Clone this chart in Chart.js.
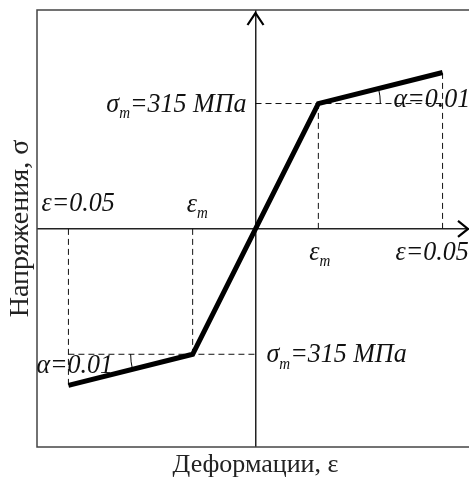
<!DOCTYPE html>
<html><head><meta charset="utf-8">
<script src="https://cdn.jsdelivr.net/npm/chart.js@4/dist/chart.umd.min.js"></script>
<style>html,body{margin:0;padding:0;background:#fff;overflow:hidden;width:469px;height:478px}canvas{display:block}</style>
</head><body>
<canvas id="c" width="480" height="478"></canvas>
<script>
// ---- data ----
const strain = [-0.05, -0.0168, 0, 0.0168, 0.05];
const stress = [-393, -315, 0, 315, 393];
const xRange = [-0.0584, 0.0584];
const yRange = [-548, 550];
const xTitle = 'Деформации, ε';
const yTitle = 'Напряжения, σ';
const stressLabel = [['σ', false], ['m', true], ['=315 МПа', false]];
const strainLabel = [['ε', false], ['m', true]];
const limitLabel = [['ε=0.05', false]];
const slopeLabel = [['α=0.01', false]];

// guide (dashed) lines built from the data points
const iEndL = 0, iYL = 1, iO = 2, iYR = 3, iEndR = 4;
const guides = [
  [[strain[iEndL], 0], [strain[iEndL], stress[iEndL]]],
  [[strain[iYL], 0], [strain[iYL], stress[iYL]]],
  [[strain[iEndL], stress[iYL]], [strain[iO], stress[iYL]]],
  [[strain[iYR], 0], [strain[iYR], stress[iYR]]],
  [[strain[iEndR], 0], [strain[iEndR], stress[iEndR]]],
  [[strain[iO], stress[iYR]], [strain[iEndR], stress[iYR]]]
];

const SERIF = "'Liberation Serif', 'Times New Roman', serif";

function drawRich(ctx, segs, x, y, align) {
  const big = 'italic 26px ' + SERIF, small = 'italic 15px ' + SERIF;
  let total = 0;
  segs.forEach(([t, sub]) => { ctx.font = sub ? small : big; total += ctx.measureText(t).width; });
  let cx = align === 'right' ? x - total : x;
  ctx.save();
  ctx.translate(cx, y);
  ctx.scale(1, 1.08);
  ctx.textBaseline = 'alphabetic';
  ctx.textAlign = 'left';
  let ox = 0;
  segs.forEach(([t, sub]) => {
    ctx.font = sub ? small : big;
    ctx.fillText(t, ox, sub ? 6 : 0);
    ox += ctx.measureText(t).width;
  });
  ctx.restore();
}

const decor = {
  id: 'decor',
  afterDraw(chart) {
    const {ctx, chartArea: a, scales: {x, y}} = chart;
    const px = v => x.getPixelForValue(v), py = v => y.getPixelForValue(v);
    ctx.save();
    // frame
    ctx.strokeStyle = '#444';
    ctx.lineWidth = 1.5;
    ctx.strokeRect(a.left, a.top, a.right - a.left, a.bottom - a.top);
    // arrows
    const x0 = px(0), y0 = py(0);
    ctx.strokeStyle = '#000';
    ctx.lineWidth = 2.2;
    ctx.beginPath();
    ctx.moveTo(x0 - 8, a.top + 15); ctx.lineTo(x0, a.top + 3); ctx.lineTo(x0 + 8, a.top + 15);
    ctx.stroke();
    ctx.beginPath();
    ctx.moveTo(a.right - 16, y0 - 8); ctx.lineTo(a.right - 6, y0); ctx.lineTo(a.right - 16, y0 + 8);
    ctx.stroke();
    // angle arcs
    ctx.lineWidth = 1;
    const yr = [px(strain[iYR]), py(stress[iYR])], er = [px(strain[iEndR]), py(stress[iEndR])];
    const tr = Math.atan2(er[1] - yr[1], er[0] - yr[0]);
    ctx.beginPath(); ctx.arc(yr[0], yr[1], 62, tr, 0); ctx.stroke();
    const yl = [px(strain[iYL]), py(stress[iYL])], el = [px(strain[iEndL]), py(stress[iEndL])];
    const tl = Math.atan2(el[1] - yl[1], el[0] - yl[0]);
    ctx.beginPath(); ctx.arc(yl[0], yl[1], 62, tl, Math.PI); ctx.stroke();
    // labels
    ctx.fillStyle = '#111';
    drawRich(ctx, stressLabel, x0 - 9, py(stress[iYR]) + 8, 'right');
    drawRich(ctx, slopeLabel, px(strain[iEndR]) - 49, py(stress[iYR]) + 3, 'left');
    drawRich(ctx, limitLabel, px(strain[iEndL]) - 27, y0 - 18, 'left');
    drawRich(ctx, strainLabel, px(strain[iYL]) - 6, y0 - 17, 'left');
    drawRich(ctx, strainLabel, px(strain[iYR]) - 9, y0 + 31, 'left');
    drawRich(ctx, limitLabel, px(strain[iEndR]) - 47, y0 + 31, 'left');
    drawRich(ctx, slopeLabel, px(strain[iEndL]) - 32, py(stress[iYL]) + 19, 'left');
    drawRich(ctx, stressLabel, x0 + 11, py(stress[iYL]) + 8, 'left');
    ctx.restore();
  }
};

const datasets = [{
  data: strain.map((v, i) => ({x: v, y: stress[i]})),
  borderColor: '#000', borderWidth: 5, pointRadius: 0, showLine: true,
  borderCapStyle: 'butt', borderJoinStyle: 'miter', order: 0
}].concat(guides.map(g => ({
  data: g.map(p => ({x: p[0], y: p[1]})),
  borderColor: '#111', borderWidth: 1, borderDash: [6, 4], pointRadius: 0, showLine: true, order: 1
})));

new Chart(document.getElementById('c'), {
  type: 'scatter',
  data: {datasets},
  options: {
    responsive: false, animation: false,
    layout: {padding: {top: 10, right: 6, bottom: 0, left: 0}},
    plugins: {legend: {display: false}, tooltip: {enabled: false}},
    scales: {
      x: {
        type: 'linear', min: xRange[0], max: xRange[1],
        afterBuildTicks: s => { s.ticks = [{value: 0}]; },
        afterFit: s => { s.height = 31; },
        ticks: {display: false},
        grid: {color: '#222', lineWidth: 1.5, drawTicks: false},
        border: {display: false},
        title: {display: true, text: xTitle, color: '#222', font: {family: SERIF, size: 26, lineHeight: 1.0}, padding: {top: 0, bottom: 0}}
      },
      y: {
        type: 'linear', min: yRange[0], max: yRange[1],
        afterBuildTicks: s => { s.ticks = [{value: 0}]; },
        afterFit: s => { s.width = 37; },
        ticks: {display: false},
        grid: {color: '#222', lineWidth: 1.5, drawTicks: false},
        border: {display: false},
        title: {display: true, text: yTitle, color: '#222', font: {family: SERIF, size: 28}, padding: {top: 4, bottom: 0}}
      }
    }
  },
  plugins: [decor]
});
</script>
</body></html>
